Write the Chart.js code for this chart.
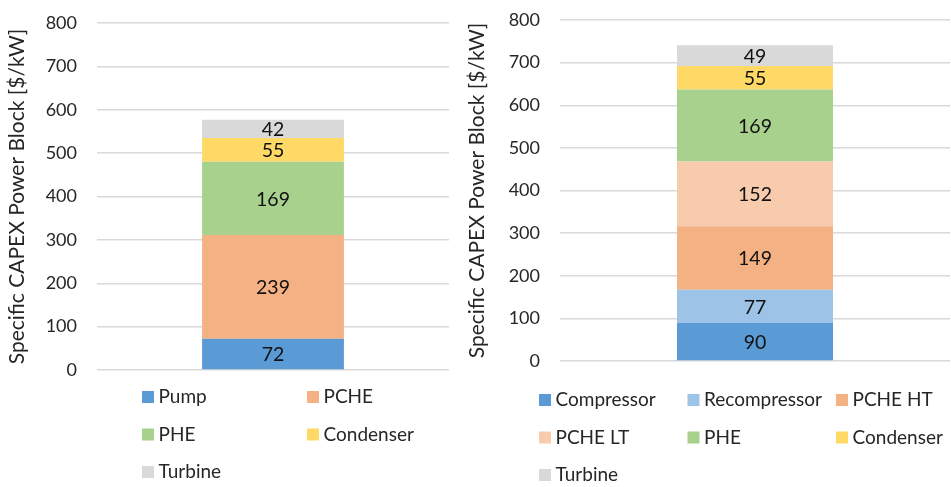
<!DOCTYPE html>
<html>
<head>
<meta charset="utf-8">
<script src="https://cdn.jsdelivr.net/npm/chart.js@4.4.1/dist/chart.umd.min.js"></script>
<style>
  html, body { margin: 0; padding: 0; background: #ffffff; }
  #wrap { position: relative; width: 951px; height: 487px; overflow: hidden; }
  #capexA { position: absolute; left: 0; top: 0; }
  #capexB { position: absolute; left: 455px; top: 0; }
</style>
</head>
<body>
<div id="wrap">
  <canvas id="capexA" width="475" height="487"></canvas>
  <canvas id="capexB" width="496" height="487"></canvas>
</div>
<script>
// Shared axis
const yTitle = 'Specific CAPEX Power Block [$/kW]';
const yRange = [0, 800];
const yStep = 100;

// Cycle A: component breakdown
const componentsA = ['Pump', 'PCHE', 'PHE', 'Condenser', 'Turbine'];
const valuesA = [72, 239, 169, 55, 42];

// Cycle B: component breakdown
const componentsB = ['Compressor', 'Recompressor', 'PCHE HT', 'PCHE LT', 'PHE', 'Condenser', 'Turbine'];
const valuesB = [90, 77, 149, 152, 169, 55, 49];

// Component colours
const palette = {
  'Pump': '#5B9BD5',
  'Compressor': '#5B9BD5',
  'Recompressor': '#9DC3E6',
  'PCHE': '#F4B183',
  'PCHE HT': '#F4B183',
  'PCHE LT': '#F8CBAD',
  'PHE': '#A9D18E',
  'Condenser': '#FFD966',
  'Turbine': '#D9D9D9'
};

const FONT = 'Lato, "Open Sans", sans-serif';
const TEXT = '#262626';

// Value written in the middle of every stacked segment
const segmentLabels = {
  id: 'segmentLabels',
  afterDatasetsDraw(chart, args, o) {
    const ctx = chart.ctx;
    ctx.save();
    ctx.font = o.size + 'px ' + FONT;
    ctx.fillStyle = o.color;
    ctx.textAlign = 'center';
    ctx.textBaseline = 'middle';
    chart.data.datasets.forEach((ds, i) => {
      chart.getDatasetMeta(i).data.forEach((bar, j) => {
        ctx.fillText(String(ds.data[j]), bar.x, (bar.y + bar.base) / 2 + o.dy);
      });
    });
    ctx.restore();
  }
};

// Legend laid out on a fixed column grid under the plot
const gridLegend = {
  id: 'gridLegend',
  afterDraw(chart, args, o) {
    const ctx = chart.ctx;
    ctx.save();
    ctx.font = o.size + 'px ' + FONT;
    ctx.textAlign = 'left';
    ctx.textBaseline = 'middle';
    chart.data.datasets.forEach((ds, i) => {
      const col = i % o.columns;
      const row = Math.floor(i / o.columns);
      const x = o.left + col * o.colWidth;
      const y = o.top + row * o.rowHeight;
      ctx.fillStyle = ds.backgroundColor;
      ctx.fillRect(x, y - o.box / 2, o.box, o.box);
      ctx.fillStyle = o.color;
      ctx.fillText(ds.label, x + o.box + o.gap, y + o.textDy);
    });
    ctx.restore();
  }
};

function drawBreakdown(id, components, values, L) {
  const datasets = components.map((name, i) => ({
    label: name,
    data: [values[i]],
    backgroundColor: palette[name],
    borderWidth: 0,
    stack: 'capex'
  }));
  return new Chart(document.getElementById(id), {
    type: 'bar',
    data: { labels: [''], datasets },
    plugins: [segmentLabels, gridLegend],
    options: {
      responsive: false,
      animation: false,
      layout: { padding: { left: 0, right: L.padRight, top: L.padTop, bottom: L.padBottom } },
      datasets: { bar: { categoryPercentage: 1, barPercentage: L.barPct } },
      plugins: {
        legend: { display: false },
        tooltip: { enabled: false },
        segmentLabels: { size: 19.5, color: '#111111', dy: 1 },
        gridLegend: {
          size: 19, color: TEXT, box: 12, gap: 4.5, textDy: 0,
          columns: L.columns, left: L.legLeft, colWidth: L.colWidth,
          top: L.legTop, rowHeight: 37.5
        }
      },
      scales: {
        x: { stacked: true, display: false },
        y: {
          stacked: true,
          min: yRange[0],
          max: yRange[1],
          border: { display: false },
          // invisible tick marks keep the labels 20px left of the plot
          grid: { color: '#D9D9D9', lineWidth: 1.5, drawTicks: true, tickLength: 20, tickColor: 'rgba(0,0,0,0)' },
          ticks: { stepSize: yStep, padding: 0, color: TEXT, font: { family: FONT, size: 18 } },
          title: {
            display: true,
            text: yTitle,
            color: TEXT,
            font: { family: FONT, size: 21 },
            padding: { top: L.titlePad, bottom: 0 }
          },
          afterFit(scale) { scale.width = L.axisWidth; }
        }
      }
    }
  });
}

drawBreakdown('capexA', componentsA, valuesA, {
  padTop: 23, padBottom: 117, padRight: 26, axisWidth: 97, barPct: 0.403, titlePad: 4.5,
  columns: 2, legLeft: 142, colWidth: 165, legTop: 397
});

drawBreakdown('capexB', componentsB, valuesB, {
  padTop: 20, padBottom: 126, padRight: 1, axisWidth: 105, barPct: 0.4, titlePad: 9.5,
  columns: 3, legLeft: 84, colWidth: 148.5, legTop: 400
});
</script>
</body>
</html>
